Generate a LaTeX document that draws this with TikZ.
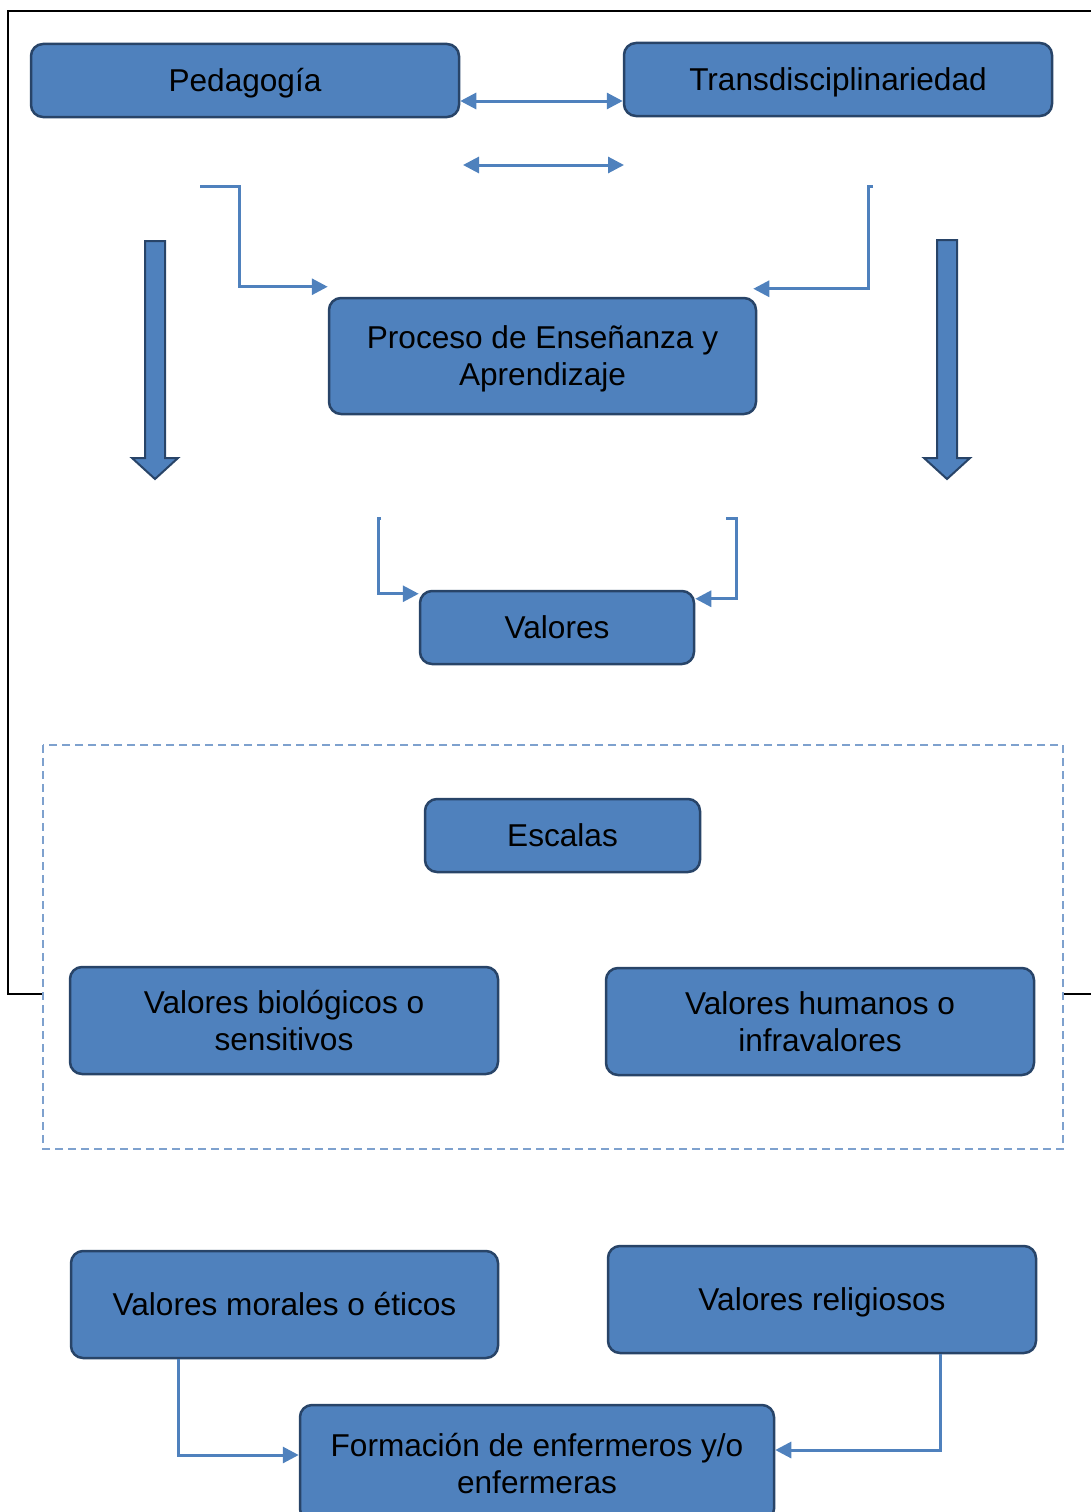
\documentclass[tikz,border=0pt]{standalone}
\usepackage{fontspec}
\setmainfont{Liberation Sans}
\usetikzlibrary{arrows.meta}
\definecolor{cajaazul}{RGB}{79,129,189}
\definecolor{bordeazul}{RGB}{40,68,104}
\definecolor{lineaazul}{RGB}{79,129,189}
\definecolor{guionazul}{RGB}{126,161,206}
\tikzset{
    caja/.style={rounded corners=12pt, fill=cajaazul, draw=bordeazul,
        line width=2.5pt, inner sep=0pt, align=center, text depth=0pt,
        font=\fontsize{31.6}{37}\selectfont},
    unalinea/.style={text height=22.6pt},
    enlace/.style={draw=lineaazul, line width=3pt,
        arrows={-Triangle[length=16pt,width=16pt]}},
    doble/.style={enlace, arrows={Triangle[length=16pt,width=16pt]-Triangle[length=16pt,width=16pt]}},
    flechagorda/.style={fill=cajaazul, draw=bordeazul, line width=2pt, line join=miter}
}
\begin{document}
\begin{tikzpicture}[x=1pt,y=-1pt]
        \useasboundingbox (0,0) rectangle (1091,1512);
        \clip (0,0) rectangle (1091,1512);
        %% Marco negro y recuadro punteado
        \draw[line width=1.3pt] (8,11) rectangle (1100,994);
        \draw[guionazul, line width=1.5pt, dash pattern=on 8pt off 5pt, fill=white]
            (43,745) rectangle (1063,1149);
        %% Cajas
        \node[caja, unalinea, minimum width=428pt, minimum height=73pt] (ped) at (245,80.5) {Pedagogía};
        \node[caja, unalinea, minimum width=428pt, minimum height=73pt] (trans) at (838,79.5) {Transdisciplinariedad};
        \node[caja, minimum width=427pt, minimum height=116pt] (proc) at (542.5,356)
            {Proceso de Enseñanza y\\Aprendizaje};
        \node[caja, unalinea, minimum width=274pt, minimum height=73pt] (val) at (557,627.5) {Valores};
        \node[caja, unalinea, minimum width=275pt, minimum height=73pt] (esc) at (562.5,835.5) {Escalas};
        \node[caja, minimum width=428pt, minimum height=107pt] (bio) at (284,1020.5)
            {Valores biológicos o\\sensitivos};
        \node[caja, minimum width=428pt, minimum height=107pt] (hum) at (820,1021.5)
            {Valores humanos o\\infravalores};
        \node[caja, unalinea, minimum width=427pt, minimum height=107pt] (mor) at (284.5,1304.5)
            {Valores morales o éticos};
        \node[caja, unalinea, minimum width=428pt, minimum height=107pt] (rel) at (822,1299.5)
            {Valores religiosos};
        \node[caja, minimum width=474pt, minimum height=116pt] (form) at (537,1463)
            {Formación de enfermeros y/o\\enfermeras};
        %% Flechas dobles
        \draw[doble] ([yshift=-20.5pt]ped.east) -- ([yshift=-21.5pt]trans.west);
        \coordinate (dobizq) at (463,165);
        \coordinate (dobder) at (624,165);
        \draw[doble] (dobizq) -- (dobder);
        %% Conectores hacia el proceso
        \coordinate (pedsal) at (200,186);
        \coordinate (transsal) at (873,186);
        \draw[enlace] (pedsal) -- (239,186) |- ([yshift=10pt]proc.north west);
        \draw[enlace] (transsal) -- (868,186) |- ([xshift=-4pt,yshift=8pt]proc.north east);
        %% Flechas gruesas
        \draw[flechagorda] (145,241) -- (165,241) -- (165,458) -- (178,458)
            -- (155,479) -- (132,458) -- (145,458) -- cycle;
        \draw[flechagorda] (937,240) -- (957,240) -- (957,458) -- (970,458)
            -- (947,479) -- (924,458) -- (937,458) -- cycle;
        %% Conectores hacia valores
        \coordinate (valizq) at (381,518);
        \coordinate (valder) at (726,518);
        \draw[enlace] (valizq) -- (378,518) |- ([yshift=-4pt]val.north west);
        \draw[enlace] (valder) -- (736,518) |- ([yshift=-9pt]val.north east);
        %% Conectores hacia la formacion
        \draw[enlace] ([xshift=-106.5pt]mor.south) |- ([yshift=8pt]form.west);
        \draw[enlace] ([xshift=118pt]rel.south) |- ([yshift=13pt]form.east);
\end{tikzpicture}
\end{document}
